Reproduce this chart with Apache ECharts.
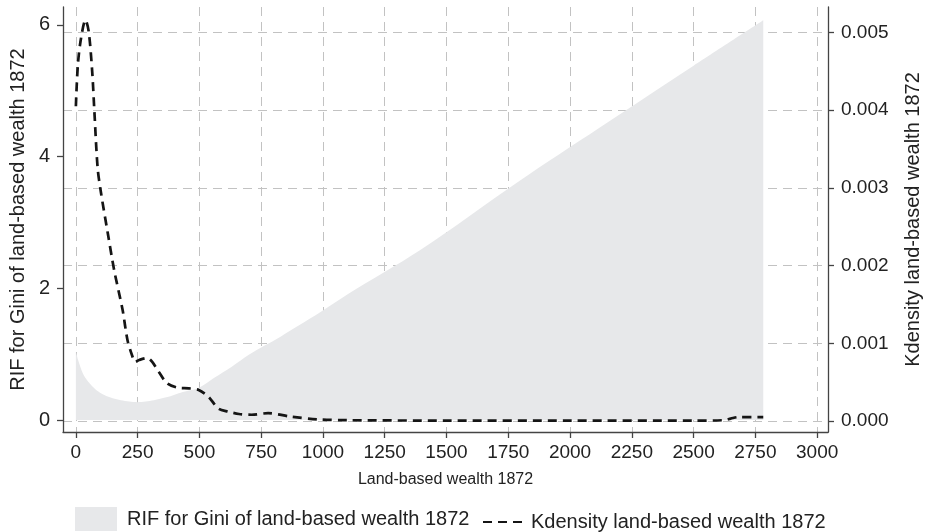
<!DOCTYPE html>
<html>
<head>
<meta charset="utf-8">
<script src="https://cdn.jsdelivr.net/npm/echarts@6/dist/echarts.min.js"></script>
<style>html,body{margin:0;padding:0;background:#fff}#c{width:931px;height:532px}</style>
</head>
<body>
<div id="c"></div>
<script>
// X ticks
var xTicks = [0, 250, 500, 750, 1000, 1250, 1500, 1750, 2000, 2250, 2500, 2750, 3000];
var leftTicks = [0, 2, 4, 6];
var rightTicks = [0, 0.001, 0.002, 0.003, 0.004, 0.005];

// RIF for Gini (left axis)
var rifX = [0, 10, 28, 50, 82, 115, 149, 182, 216, 249, 282, 316, 349, 383, 416, 450, 499, 560, 631, 700, 764, 830, 900, 992, 1100, 1394, 1795, 2116, 2500, 2782];
var rifY = [1.04, 0.90, 0.71, 0.58, 0.456, 0.38, 0.33, 0.30, 0.28, 0.27, 0.28, 0.30, 0.33, 0.36, 0.405, 0.44, 0.49, 0.64, 0.81, 0.99, 1.13, 1.27, 1.43, 1.645, 1.91, 2.58, 3.63, 4.43, 5.38, 6.07];

// Kdensity (right axis)
var kdX = [0, 8, 21, 39, 52, 66, 75, 88, 102, 129, 155, 189, 209, 229, 240, 256, 289, 309, 336, 369, 410, 457, 497, 537, 577, 617, 660, 711, 778, 871, 979, 1100, 1500, 2000, 2500, 2620, 2650, 2680, 2782];
var kdY = [0.00405, 0.00458, 0.00493, 0.00516, 0.00501, 0.00450, 0.00398, 0.00326, 0.00293, 0.00242, 0.00194, 0.00143, 0.00104, 0.00083, 0.00076, 0.000785, 0.00081, 0.00076, 0.00063, 0.000485, 0.00043, 0.00042, 0.00040, 0.00031, 0.00016, 0.00012, 0.00009, 0.00008, 0.00010, 0.000055, 0.00002, 0.00001, 0.000005, 0.000005, 0.000005, 0.00001, 0.00003, 0.00005, 0.00005];

var FONT = "'Liberation Sans', Arial, Helvetica, sans-serif";
var AXC = '#444';
var GRIDC = '#c2c2c2';
var AREAC = '#e7e8ea';

function plain(v) { return String(v); }

var chart = echarts.init(document.getElementById('c'), null, {renderer: 'canvas'});
chart.setOption({
  animation: false,
  backgroundColor: '#fff',
  textStyle: {fontFamily: FONT},
  grid: {left: 60, right: 100, top: 7, bottom: 100, containLabel: false},
  legend: [
    {
      data: [{name: 'RIF for Gini of land-based wealth 1872', icon: 'rect', itemStyle: {color: AREAC}}],
      left: 75, top: 507, padding: 0, itemWidth: 42, itemHeight: 24,
      textStyle: {fontSize: 20, color: '#222', fontFamily: FONT, padding: [0, 0, 0, 5]},
      selectedMode: false
    },
    {
      data: [{name: 'Kdensity land-based wealth 1872', itemStyle: {opacity: 0}}],
      left: 482, top: 512, padding: 0, itemWidth: 41, itemHeight: 14,
      textStyle: {fontSize: 20, color: '#222', fontFamily: FONT, padding: [0, 0, 0, 2]},
      selectedMode: false
    }
  ],
  xAxis: {
    type: 'value', min: -52, max: 3044,
    name: 'Land-based wealth 1872', nameLocation: 'middle', nameGap: 40,
    nameTextStyle: {fontSize: 16, color: '#222', fontFamily: FONT},
    axisLine: {show: true, onZero: false, lineStyle: {color: AXC, width: 1.3}},
    axisTick: {show: true, length: 6, customValues: xTicks, lineStyle: {color: AXC, width: 1.3}},
    axisLabel: {customValues: xTicks, fontSize: 19, color: '#222', margin: 11, fontFamily: FONT, formatter: plain},
    splitLine: {show: true, lineStyle: {color: GRIDC, type: [9, 6], width: 1}}
  },
  yAxis: [
    {
      type: 'value', position: 'left', min: -0.182, max: 6.272,
      name: 'RIF for Gini of land-based wealth 1872', nameLocation: 'middle', nameGap: 30,
      nameTextStyle: {fontSize: 20, color: '#222', fontFamily: FONT},
      axisLine: {show: true, onZero: false, lineStyle: {color: AXC, width: 1.3}},
      axisTick: {show: true, length: 6, customValues: leftTicks, lineStyle: {color: AXC, width: 1.3}},
      axisLabel: {customValues: leftTicks, fontSize: 20, color: '#222', margin: 13, fontFamily: FONT, formatter: plain},
      splitLine: {show: false}
    },
    {
      type: 'value', position: 'right', min: -0.000142, max: 0.005328,
      name: 'Kdensity land-based wealth 1872', nameLocation: 'middle', nameGap: 75,
      nameTextStyle: {fontSize: 20, color: '#222', fontFamily: FONT},
      axisLine: {show: true, onZero: false, lineStyle: {color: AXC, width: 1.3}},
      axisTick: {show: true, length: 6, customValues: rightTicks, lineStyle: {color: AXC, width: 1.3}},
      axisLabel: {customValues: rightTicks, fontSize: 19, color: '#222', margin: 13, fontFamily: FONT,
        formatter: function (v) { return v.toFixed(3); }},
      splitLine: {show: true, lineStyle: {color: GRIDC, type: [9, 6], width: 1}}
    }
  ],
  series: [
    {
      name: 'RIF for Gini of land-based wealth 1872',
      type: 'line', yAxisIndex: 0, smooth: 0.3, symbol: 'none',
      data: rifX.map(function (x, i) { return [x, rifY[i]]; }),
      lineStyle: {width: 0, color: AREAC},
      itemStyle: {color: AREAC},
      areaStyle: {color: AREAC, opacity: 1}
    },
    {
      name: 'Kdensity land-based wealth 1872',
      type: 'line', yAxisIndex: 1, smooth: 0.3, symbol: 'none',
      data: kdX.map(function (x, i) { return [x, kdY[i]]; }),
      lineStyle: {width: 2.7, color: '#151515', type: [9, 6]},
      itemStyle: {color: '#151515'}
    }
  ]
});
</script>
</body>
</html>
